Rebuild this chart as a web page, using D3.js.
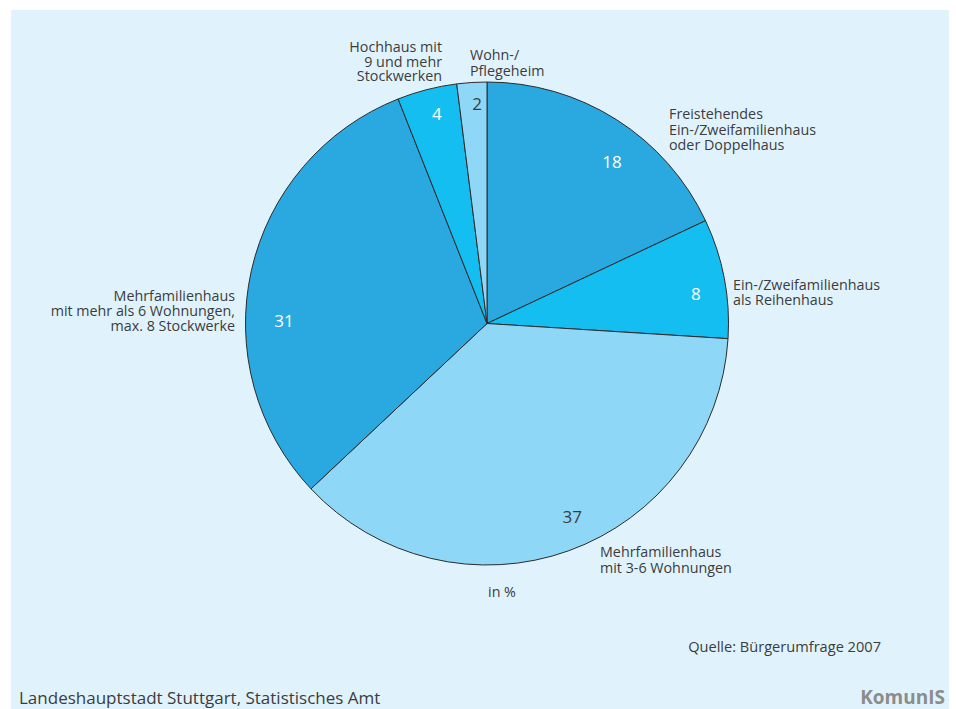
<!DOCTYPE html>
<html>
<head>
<meta charset="utf-8">
<script src="https://cdn.jsdelivr.net/npm/d3@7"></script>
<style>
  html, body { margin: 0; padding: 0; background: #ffffff; }
  svg { display: block; }
  text { font-family: "Open Sans", "Noto Sans", sans-serif; fill: #3c3c3c; }
</style>
</head>
<body>
<svg id="chart" width="956" height="709"></svg>
<script>
// Wohnform der Befragten (Bürgerumfrage 2007), Anteile in %
const categories = [
  "Freistehendes Ein-/Zweifamilienhaus oder Doppelhaus",
  "Ein-/Zweifamilienhaus als Reihenhaus",
  "Mehrfamilienhaus mit 3-6 Wohnungen",
  "Mehrfamilienhaus mit mehr als 6 Wohnungen, max. 8 Stockwerke",
  "Hochhaus mit 9 und mehr Stockwerken",
  "Wohn-/Pflegeheim"
];
const values = [18, 8, 37, 31, 4, 2];
const labelLines = [
  ["Freistehendes", "Ein-/Zweifamilienhaus", "oder Doppelhaus"],
  ["Ein-/Zweifamilienhaus", "als Reihenhaus"],
  ["Mehrfamilienhaus", "mit 3-6 Wohnungen"],
  ["Mehrfamilienhaus", "mit mehr als 6 Wohnungen,", "max. 8 Stockwerke"],
  ["Hochhaus mit", "9 und mehr", "Stockwerken"],
  ["Wohn-/", "Pflegeheim"]
];

const svg = d3.select("#chart");

// panel background
svg.append("rect")
  .attr("x", 11).attr("y", 10)
  .attr("width", 938).attr("height", 699)
  .attr("fill", "#e0f3fd");

const cx = 487, cy = 323.5, R = 241.5;

const fills = ["#29a9e0", "#15bef0", "#8fd7f6", "#29a9e0", "#15bef0", "#8fd7f6"];
const valueColors = ["#ffffff", "#ffffff", "#3c3c3c", "#ffffff", "#ffffff", "#3c3c3c"];

const pie = d3.pie().sort(null).value(d => d)(values);
const arc = d3.arc().innerRadius(0).outerRadius(R);

const g = svg.append("g").attr("transform", `translate(${cx},${cy})`);

g.selectAll("path.slice")
  .data(pie)
  .join("path")
  .attr("class", "slice")
  .attr("d", arc)
  .attr("fill", (d, i) => fills[i])
  .attr("stroke", "#2b2b2b")
  .attr("stroke-width", 1)
  .attr("stroke-linejoin", "round");

// value labels, placed in polar coordinates inside each slice
const valuePos = [
  { a: 37.8, r: 204 }, { a: 81.8, r: 211 }, { a: 156.2, r: 211 },
  { a: 270.8, r: 203 }, { a: 346.6, r: 216 }, { a: 357.4, r: 220 }
];
g.selectAll("text.val")
  .data(pie)
  .join("text")
  .attr("class", "val")
  .attr("x", (d, i) => valuePos[i].r * Math.sin(valuePos[i].a * Math.PI / 180))
  .attr("y", (d, i) => -valuePos[i].r * Math.cos(valuePos[i].a * Math.PI / 180))
  .attr("dy", "0.36em")
  .attr("text-anchor", "middle")
  .style("font-size", "17px")
  .style("fill", (d, i) => valueColors[i])
  .text(d => d.data);

// category labels outside the pie, one text element per line
const catPos = [
  { x: 669, y: 119, anchor: "start", lh: 15.5 },
  { x: 733, y: 290, anchor: "start", lh: 14.5 },
  { x: 600, y: 557, anchor: "start", lh: 15.5 },
  { x: 235, y: 301, anchor: "end", lh: 15 },
  { x: 442, y: 52, anchor: "end", lh: 14.5 },
  { x: 470, y: 60, anchor: "start", lh: 15.5 }
];
labelLines.forEach((lines, i) => {
  const p = catPos[i];
  svg.append("g").attr("class", "cat")
    .selectAll("text")
    .data(lines)
    .join("text")
    .attr("x", p.x)
    .attr("y", (ln, j) => p.y + j * p.lh)
    .attr("text-anchor", p.anchor)
    .style("font-size", "14.3px")
    .text(ln => ln);
});

svg.append("text")
  .attr("x", 502).attr("y", 597)
  .attr("text-anchor", "middle")
  .style("font-size", "14.3px")
  .text("in %");

svg.append("text")
  .attr("x", 881).attr("y", 652)
  .attr("text-anchor", "end")
  .style("font-size", "14.6px")
  .text("Quelle: Bürgerumfrage 2007");

svg.append("text")
  .attr("x", 19).attr("y", 704)
  .style("font-size", "17px")
  .text("Landeshauptstadt Stuttgart, Statistisches Amt");

svg.append("text")
  .attr("x", 945).attr("y", 704)
  .attr("text-anchor", "end")
  .style("font-size", "19px")
  .style("font-weight", "bold")
  .style("fill", "#8c8c8c")
  .text("KomunIS");
</script>
</body>
</html>
